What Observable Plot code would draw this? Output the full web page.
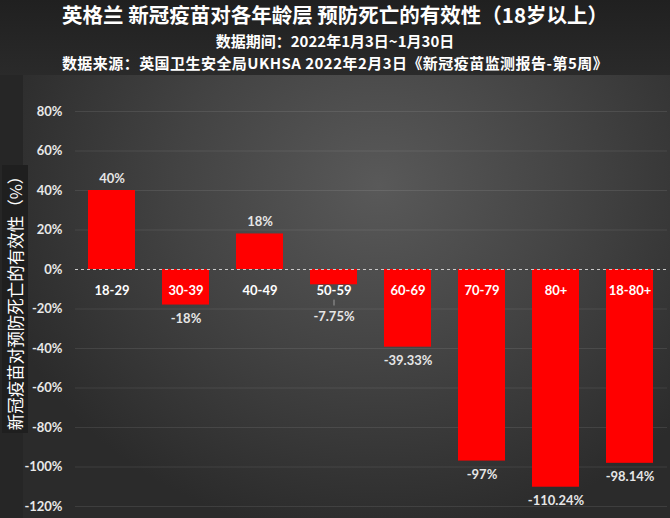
<!DOCTYPE html>
<html>
<head>
<meta charset="utf-8">
<script src="https://cdn.jsdelivr.net/npm/d3@7"></script>
<script src="https://cdn.jsdelivr.net/npm/@observablehq/plot@0.6"></script>
<style>
  html, body { margin: 0; padding: 0; background: #262626; }
  #wrap { position: relative; width: 670px; height: 518px; overflow: hidden; background: #262626; }
  #titles { position: absolute; left: 0; top: 0; width: 670px; height: 75px;
    background: linear-gradient(#202020, #2a2a2a); color: #fff; text-align: center;
    font-family: "Noto Sans CJK SC", sans-serif; font-weight: bold; }
  #t1 { position: absolute; left: 0; width: 670px; top: 2px; font-size: 20.5px; line-height: 24px; }
  #t2 { position: absolute; left: 0; width: 670px; top: 32px; font-size: 15px; line-height: 18px; }
  #t3 { position: absolute; left: 0; width: 670px; top: 54px; font-size: 15px; line-height: 18px; letter-spacing: 0.45px; }
  #panel { position: absolute; left: 23px; top: 75px; width: 647px; height: 443px;
    background: radial-gradient(ellipse 62% 80% at 55% 25%, #595959 0%, #434343 50%, #2b2b2b 100%); }
  #ylab { position: absolute; left: 2px; top: 165px; width: 26px; height: 268px; background: #1f1f1f; }
  #ylabtext { position: absolute; left: 15px; top: 299px; transform: translate(-50%, -50%) rotate(-90deg);
    white-space: nowrap; color: #fff; font-family: "Noto Sans CJK SC", sans-serif; font-size: 16.5px; }
  #chart { position: absolute; left: 0; top: 75px; }
</style>
</head>
<body>
<div id="wrap">
  <div id="titles">
    <div id="t1">英格兰 新冠疫苗对各年龄层 预防死亡的有效性（18岁以上）</div>
    <div id="t2">数据期间：2022年1月3日~1月30日</div>
    <div id="t3">数据来源：英国卫生安全局UKHSA 2022年2月3日《新冠疫苗监测报告-第5周》</div>
  </div>
  <div id="panel"></div>
  <div id="ylab"></div>
  <div id="ylabtext">新冠疫苗对预防死亡的有效性（%）</div>
  <div id="chart"></div>
</div>
<script>
const categories = ["18-29", "30-39", "40-49", "50-59", "60-69", "70-79", "80+", "18-80+"];
const values = [40, -18, 18, -7.75, -39.33, -97, -110.24, -98.14];
const valueLabels = ["40%", "-18%", "18%", "-7.75%", "-39.33%", "-97%", "-110.24%", "-98.14%"];
const yTicks = [80, 60, 40, 20, 0, -20, -40, -60, -80, -100, -120];

const data = categories.map((c, i) => ({cat: c, value: values[i], label: valueLabels[i]}));
const numFont = "Lato, 'Open Sans', sans-serif";
const labelStyle = {fill: "#e6e6e6", fontSize: 13, fontWeight: "bold", fontFamily: numFont};

const chart = Plot.plot({
  width: 670,
  height: 443,
  marginLeft: 75,
  marginRight: 3,
  marginTop: 36,
  marginBottom: 12,
  style: {background: "transparent", fontFamily: numFont, overflow: "visible"},
  x: {domain: categories, paddingInner: 0.36, paddingOuter: 0.18, axis: null},
  y: {domain: [-120, 80], ticks: yTicks},
  marks: [
    Plot.gridY(yTicks.filter(d => d !== 0), {stroke: "#ffffff", strokeOpacity: 0.09, strokeWidth: 1}),
    Plot.axisY(yTicks, {tickSize: 0, tickPadding: 13, tickFormat: d => d + "%", fill: "#e8e8e8",
      fontSize: 13, fontWeight: "bold", label: null, fontFamily: numFont}),
    Plot.barY(data, {x: "cat", y: "value", fill: "#ff0000"}),
    Plot.ruleY([0], {stroke: "#c8c8c8", strokeDasharray: "3,3", strokeWidth: 1}),
    Plot.text(data, {x: "cat", y: () => 0, text: "cat", dy: 21, fill: "#ffffff",
      fontSize: 13, fontWeight: "bold", fontFamily: numFont}),
    Plot.text(data.filter(d => d.value > 0), {x: "cat", y: "value", text: "label", dy: -12, ...labelStyle}),
    Plot.text(data.filter(d => d.value < 0 && d.cat !== "50-59"), {x: "cat", y: "value", text: "label", dy: 14, ...labelStyle}),
    Plot.ruleX(data.filter(d => d.cat === "50-59"), {x: "cat", y1: -15.5, y2: -18.5, stroke: "#9a9a9a", strokeWidth: 1}),
    Plot.text(data.filter(d => d.cat === "50-59"), {x: "cat", y: "value", text: "label", dy: 32, ...labelStyle})
  ]
});

document.getElementById("chart").appendChild(chart);
</script>
</body>
</html>
